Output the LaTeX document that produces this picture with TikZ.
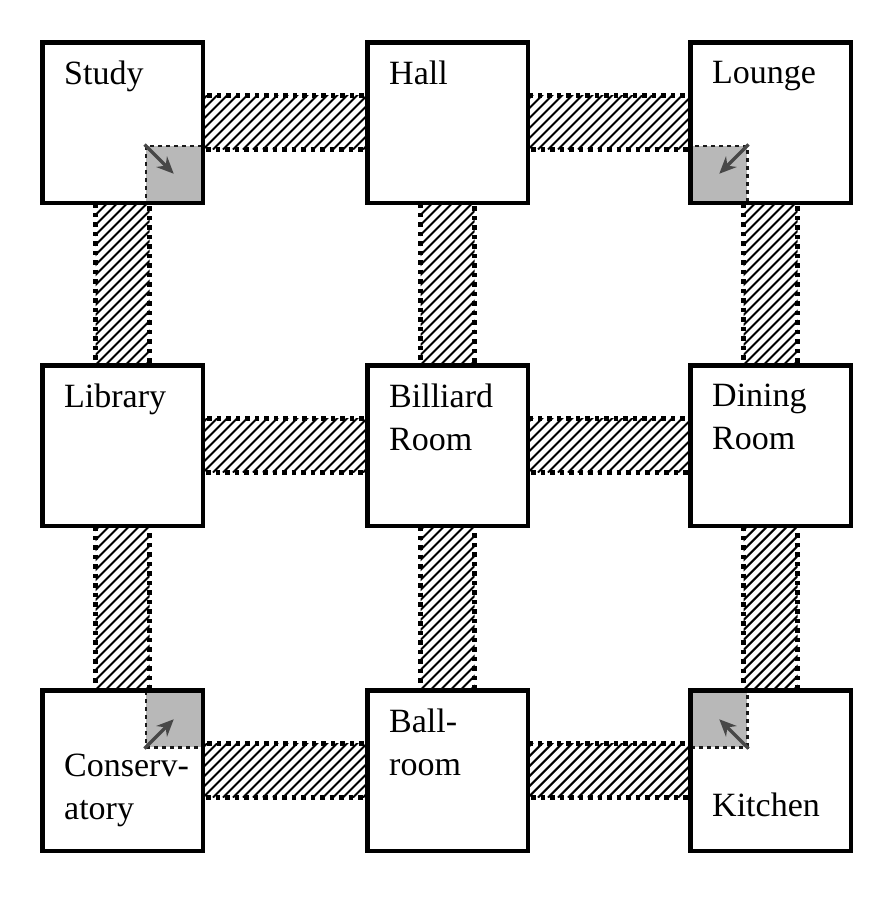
\documentclass[tikz,border=0pt]{standalone}
\usepackage{fontspec}
\setmainfont{Liberation Serif}
\usetikzlibrary{positioning,arrows.meta,backgrounds}

\tikzset{
  room/.style={draw, line width=4.5pt, minimum size=160.5pt, inner sep=0pt},
  roomname/.style={anchor=north west, inner sep=0pt, align=left, font=\fontsize{34}{43}\selectfont},
  hatching/.style={path picture={
      \foreach \i in {-18,...,18}
        \draw[solid, line width=2.1pt] ([xshift=\i*10pt]path picture bounding box.south west) -- ++(190pt,190pt);}},
  hallway/.style={draw, line width=4.5pt, dash pattern=on 4.5pt off 5pt, hatching},
  passage/.style={draw=black!90, fill=black!28, line width=2.5pt, dash pattern=on 4pt off 4pt, minimum size=56pt, inner sep=0pt},
  secret/.style={draw=black!72, line width=3.5pt, -{Stealth[length=17pt,width=15pt]}}
}

\begin{document}
\begin{tikzpicture}
  \useasboundingbox (0,0) rectangle (887pt,-900pt);
  % rooms
  \node[room] (study) at (122.5pt,-122.5pt) {};
  \node[room, right=160pt of study] (hall) {};
  \node[room, right=158pt of hall] (lounge) {};
  \node[room, below=158pt of study] (library) {};
  \node[room, right=160pt of library] (billiard) {};
  \node[room, right=158pt of billiard] (dining) {};
  \node[room, below=160pt of library] (conservatory) {};
  \node[room, right=160pt of conservatory] (ballroom) {};
  \node[room, right=158pt of ballroom] (kitchen) {};

  \node[roomname] (study-name) at ([shift={(24pt,-21pt)}]study.north west) {Study};
  \node[roomname] (hall-name) at ([shift={(24pt,-21pt)}]hall.north west) {Hall};
  \node[roomname] (lounge-name) at ([shift={(24pt,-21pt)}]lounge.north west) {Lounge};
  \node[roomname] (library-name) at ([shift={(24pt,-21pt)}]library.north west) {Library};
  \node[roomname] (billiard-name) at ([shift={(24pt,-21pt)}]billiard.north west) {Billiard\\Room};
  \node[roomname] (dining-name) at ([shift={(24pt,-21pt)}]dining.north west) {Dining\\Room};
  \node[roomname] (conservatory-name) at ([shift={(24pt,-66pt)}]conservatory.north west) {Conserv-\\atory};
  \node[roomname] (ballroom-name) at ([shift={(24pt,-21pt)}]ballroom.north west) {Ball-\\room};
  \node[roomname] (kitchen-name) at ([shift={(24pt,-105pt)}]kitchen.north west) {Kitchen};

  \begin{scope}[on background layer]
    % hallways
    \foreach \a/\b in {study/hall, hall/lounge, library/billiard, billiard/dining, conservatory/ballroom, ballroom/kitchen}
      \path[hallway] ([shift={(-2pt,27pt)}]\a.east) rectangle ([shift={(2pt,-27pt)}]\b.west);
    \foreach \a/\b in {study/library, library/conservatory, hall/billiard, billiard/ballroom, lounge/dining, dining/kitchen}
      \path[hallway] ([shift={(-27pt,2pt)}]\a.south) rectangle ([shift={(27pt,-2pt)}]\b.north);
    % secret passages
    \node[passage, anchor=south east] (study-pass) at ([shift={(-2pt,2pt)}]study.south east) {};
    \node[passage, anchor=south west] (lounge-pass) at ([shift={(2pt,2pt)}]lounge.south west) {};
    \node[passage, anchor=north east] (conservatory-pass) at ([shift={(-2pt,-2pt)}]conservatory.north east) {};
    \node[passage, anchor=north west] (kitchen-pass) at ([shift={(2pt,-2pt)}]kitchen.north west) {};
  \end{scope}

  \draw[secret] (study-pass.north west) -- (study-pass.center);
  \draw[secret] (lounge-pass.north east) -- (lounge-pass.center);
  \draw[secret] (conservatory-pass.south west) -- (conservatory-pass.center);
  \draw[secret] (kitchen-pass.south east) -- (kitchen-pass.center);
\end{tikzpicture}
\end{document}
